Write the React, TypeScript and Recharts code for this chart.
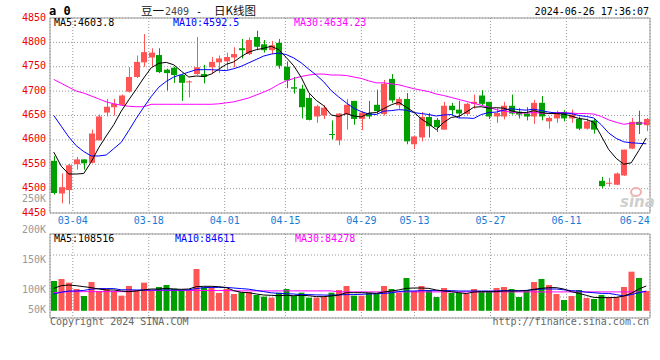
import {
  Bar,
  CartesianGrid,
  Cell,
  ComposedChart,
  Line,
  ReferenceArea,
  XAxis,
  YAxis,
} from 'recharts';

const dates = [
  '02-28', '02-29', '03-01', '03-04', '03-05', '03-06', '03-07', '03-08', '03-11', '03-12',
  '03-13', '03-14', '03-15', '03-18', '03-19', '03-20', '03-21', '03-22', '03-25', '03-26',
  '03-27', '03-28', '03-29', '04-01', '04-02', '04-03', '04-08', '04-09', '04-10', '04-11',
  '04-12', '04-15', '04-16', '04-17', '04-18', '04-19', '04-22', '04-23', '04-24', '04-25',
  '04-26', '04-29', '04-30', '05-06', '05-07', '05-08', '05-09', '05-10', '05-13', '05-14',
  '05-15', '05-16', '05-17', '05-20', '05-21', '05-22', '05-23', '05-24', '05-27', '05-28',
  '05-29', '05-30', '05-31', '06-03', '06-04', '06-05', '06-06', '06-07', '06-11', '06-12',
  '06-13', '06-14', '06-17', '06-18', '06-19', '06-20', '06-21', '06-24', '06-25', '06-26',
];

const opens = [
  4557, 4490, 4497, 4550, 4560, 4553, 4599, 4656, 4667, 4672,
  4699, 4729, 4759, 4769, 4774, 4744, 4748, 4733, 4719, 4735,
  4735, 4749, 4759, 4761, 4769, 4788, 4776, 4811, 4796, 4784,
  4799, 4750, 4708, 4705, 4686, 4648, 4650, 4612, 4599, 4652,
  4680, 4643, 4655, 4672, 4653, 4725, 4671, 4684, 4591, 4605,
  4647, 4641, 4621, 4670, 4662, 4653, 4674, 4691, 4678, 4648,
  4648, 4670, 4658, 4654, 4648, 4676, 4638, 4644, 4657, 4644,
  4643, 4623, 4640, 4516, 4511, 4508, 4527, 4582, 4637, 4630,
];
const highs = [
  4567, 4531, 4551, 4565, 4560, 4621, 4652, 4684, 4684, 4693,
  4749, 4773, 4817, 4788, 4788, 4746, 4750, 4735, 4722, 4811,
  4754, 4770, 4773, 4779, 4790, 4807, 4810, 4824, 4805, 4803,
  4807, 4761, 4729, 4713, 4695, 4672, 4671, 4640, 4655, 4684,
  4680, 4659, 4680, 4703, 4723, 4735, 4688, 4696, 4608, 4657,
  4655, 4645, 4678, 4676, 4680, 4676, 4693, 4702, 4678, 4665,
  4678, 4693, 4665, 4667, 4682, 4690, 4648, 4660, 4661, 4662,
  4648, 4644, 4643, 4524, 4522, 4533, 4580, 4645, 4660, 4645,
];
const lows = [
  4488, 4470, 4468, 4539, 4539, 4552, 4599, 4648, 4650, 4671,
  4697, 4727, 4750, 4750, 4737, 4701, 4717, 4680, 4687, 4733,
  4716, 4735, 4737, 4744, 4749, 4767, 4774, 4784, 4779, 4776,
  4746, 4706, 4695, 4644, 4640, 4635, 4643, 4601, 4589, 4621,
  4631, 4620, 4643, 4653, 4650, 4676, 4664, 4591, 4581, 4597,
  4605, 4616, 4621, 4651, 4645, 4650, 4664, 4671, 4643, 4635,
  4642, 4652, 4644, 4640, 4633, 4640, 4623, 4635, 4638, 4635,
  4620, 4621, 4613, 4501, 4504, 4507, 4526, 4581, 4612, 4618,
];
const closes = [
  4491, 4503, 4548, 4560, 4552, 4613, 4648, 4668, 4674, 4691,
  4729, 4760, 4780, 4779, 4739, 4737, 4733, 4717, 4720, 4749,
  4729, 4760, 4767, 4770, 4776, 4784, 4805, 4791, 4784, 4794,
  4752, 4722, 4705, 4667, 4641, 4669, 4666, 4611, 4654, 4672,
  4643, 4656, 4648, 4659, 4715, 4681, 4684, 4597, 4607, 4647,
  4628, 4626, 4670, 4661, 4654, 4674, 4678, 4674, 4648, 4655,
  4670, 4654, 4652, 4648, 4676, 4648, 4645, 4654, 4644, 4652,
  4623, 4638, 4621, 4505, 4512, 4531, 4580, 4637, 4631, 4643,
];

const ma5 = [
  4575, 4546, 4530, 4530, 4531, 4555, 4584, 4608, 4631, 4659,
  4682, 4704, 4727, 4748, 4757, 4759, 4754, 4741, 4729, 4731,
  4730, 4735, 4745, 4755, 4760, 4771, 4780, 4785, 4788, 4792,
  4785, 4769, 4752, 4728, 4697, 4681, 4670, 4651, 4648, 4654,
  4649, 4647, 4655, 4656, 4664, 4672, 4677, 4667, 4657, 4643,
  4633, 4621, 4636, 4646, 4648, 4657, 4667, 4668, 4665, 4666,
  4665, 4660, 4656, 4656, 4660, 4656, 4654, 4654, 4653, 4649,
  4644, 4642, 4636, 4608, 4580, 4562, 4550, 4553, 4578, 4604,
];
const ma10 = [
  4650, 4628, 4606, 4588, 4576, 4567, 4567, 4569, 4582, 4595,
  4619, 4644, 4667, 4689, 4708, 4720, 4729, 4734, 4739, 4744,
  4744, 4744, 4743, 4742, 4746, 4751, 4758, 4765, 4772, 4776,
  4778, 4775, 4768, 4758, 4745, 4733, 4719, 4701, 4688, 4676,
  4665, 4658, 4653, 4652, 4659, 4660, 4662, 4661, 4656, 4654,
  4652, 4649, 4651, 4652, 4645, 4645, 4644, 4652, 4656, 4657,
  4661, 4664, 4662, 4661, 4663, 4660, 4657, 4655, 4655, 4654,
  4650, 4648, 4645, 4631, 4614, 4603, 4596, 4594, 4593, 4592,
];
const ma30 = [
  4724, 4716, 4708, 4700, 4696, 4690, 4684, 4678, 4674, 4671,
  4669, 4668, 4668, 4673, 4673, 4673, 4673, 4673, 4673, 4673,
  4673, 4673, 4674, 4676, 4678, 4682, 4686, 4692, 4698, 4705,
  4714, 4721, 4726, 4730, 4733, 4735, 4735, 4733, 4733, 4732,
  4729, 4726, 4721, 4717, 4717, 4715, 4713, 4709, 4705, 4702,
  4699, 4694, 4691, 4687, 4683, 4679, 4675, 4671, 4667, 4662,
  4659, 4657, 4655, 4655, 4656, 4655, 4654, 4656, 4656, 4655,
  4654, 4654, 4653, 4648, 4641, 4636, 4632, 4634, 4635, 4634,
];

const volumes = [
  116700, 120000, 113900, 103300, 91700, 115000, 100000, 103300, 100000, 92200,
  108300, 100000, 113900, 101700, 106700, 110000, 103900, 101700, 100000, 136700,
  106100, 106700, 96700, 103300, 95000, 97800, 98300, 93300, 90600, 88900,
  97200, 103300, 91700, 97200, 88900, 88900, 90600, 97200, 101700, 108300,
  92200, 92200, 97200, 95000, 108300, 103300, 97200, 121700, 100000, 108300,
  101700, 90000, 105000, 96700, 96700, 95000, 103300, 98300, 100000, 105000,
  106700, 103300, 90000, 101700, 115000, 120000, 110000, 95000, 85000, 91700,
  101700, 88300, 86700, 93300, 90000, 90000, 106700, 132200, 121700, 100000,
];
const volMa5 = [
  104400, 108900, 110000, 108900, 107200, 105600, 103300, 101700, 101700, 100000,
  98900, 100000, 101700, 103300, 103300, 104400, 103300, 102800, 103300, 107200,
  107800, 107800, 107200, 105600, 100600, 97800, 97200, 95000, 93300, 92800,
  92200, 92800, 92200, 92800, 92200, 90600, 90600, 91700, 93300, 97200,
  97200, 97200, 96700, 96100, 98300, 100000, 101700, 104400, 105000, 105000,
  104400, 101700, 100000, 98900, 97200, 95600, 98300, 98900, 98900, 98900,
  100000, 100000, 100000, 100600, 102800, 104400, 105600, 105600, 103300, 98900,
  96100, 92800, 89400, 88900, 88900, 89400, 91700, 96100, 103300, 108300,
];
const volMa10 = [
  95000, 98000, 100000, 100000, 101000, 103000, 104000, 104000, 104000, 102000,
  102000, 101700, 101700, 101700, 101700, 101700, 101700, 101700, 102000, 104000,
  105600, 106000, 106000, 106000, 105000, 104000, 103000, 101000, 99000, 97000,
  96000, 95500, 95000, 94000, 94000, 93500, 93300, 93000, 93500, 94000,
  94000, 94500, 95000, 95500, 96000, 97000, 99000, 100000, 100000, 100600,
  100600, 100600, 100600, 100600, 100000, 100000, 100000, 100000, 100000, 100000,
  100600, 100600, 100600, 101000, 102000, 103300, 103300, 103300, 102000, 100600,
  100000, 98000, 97200, 96000, 96000, 94000, 91700, 94000, 97000, 100000,
];
const volMa30 = [
  97200, 98000, 98900, 98900, 98900, 98900, 98900, 98900, 98900, 98900,
  98900, 100800, 100800, 100800, 100800, 100800, 100800, 100800, 100800, 100800,
  100800, 100800, 100800, 100800, 100200, 100200, 100200, 100200, 100200, 100200,
  100200, 100200, 100200, 100200, 100200, 100200, 100200, 100200, 98500, 98500,
  98500, 98500, 98500, 98500, 98500, 98500, 98500, 98500, 98500, 98500,
  98500, 98500, 98500, 98500, 98500, 98500, 98500, 98500, 98500, 98500,
  98500, 98500, 98500, 98500, 98500, 98500, 98500, 98500, 98500, 98500,
  98500, 98500, 98500, 98500, 98500, 98500, 98500, 98500, 98500, 98500,
];
const volBase = 67000;

const priceTicks = [4450, 4500, 4550, 4600, 4650, 4700, 4750, 4800, 4850];
const tickDates = ['03-04', '03-18', '04-01', '04-15', '04-29', '05-13', '05-27', '06-11', '06-24'];
const volLabels = ['250K', '200K', '150K', '100K', '50K'];

const RED = '#ff5555';
const GREEN = '#00a000';
const GRID = '#999';
const MONO = '"DejaVu Sans Mono", monospace';
const CJK = '"Noto Sans CJK SC", sans-serif';

const rows = dates.map((date, i) => ({
  date,
  i,
  open: opens[i],
  high: highs[i],
  low: lows[i],
  close: closes[i],
  hl: [lows[i], highs[i]],
  ma5: ma5[i],
  ma10: ma10[i],
  ma30: ma30[i],
  vr: [volBase, volumes[i]],
  vma5: volMa5[i],
  vma10: volMa10[i],
  vma30: volMa30[i],
}));

const labelTicks = tickDates.map((d) => dates.indexOf(d));
const gridTicks = labelTicks.slice(0, -1);
const last = dates.length - 1;

function Candle(props: any) {
  const { x, y, width, height, payload } = props;
  const { open, close, high, low } = payload;
  const color = close >= open ? RED : GREEN;
  const top = Math.min(y, y + height);
  const h = Math.abs(height);
  const k = h / (high - low);
  const yo = top + (high - open) * k;
  const yc = top + (high - close) * k;
  const bx = Math.round(x);
  return (
    <g>
      <rect x={bx + 3} y={top} width={1} height={h} fill={color} />
      <rect
        x={bx}
        y={Math.min(yo, yc)}
        width={Math.round(width)}
        height={Math.max(1, Math.abs(yo - yc))}
        fill={color}
      />
    </g>
  );
}

function DateTick({ x, y, payload }: any) {
  return (
    <text x={x} y={y} dy={11} textAnchor="middle" fill="#1a7ad4" fontSize={10} fontFamily={MONO}>
      {dates[payload.value]}
    </text>
  );
}

const maLine = (key: string, color: string) => (
  <Line
    xAxisId="c"
    yAxisId={key.startsWith('v') ? 'v' : 'p'}
    dataKey={key}
    stroke={color}
    strokeWidth={1}
    dot={false}
    activeDot={false}
    isAnimationActive={false}
  />
);

export default function App() {
  return (
    <div
      style={{
        position: 'absolute',
        left: 0,
        top: 0,
        width: 660,
        height: 360,
        background: '#fff',
        overflow: 'hidden',
      }}
    >
      <div style={{ position: 'absolute', left: 0, top: 0 }}>
        <ComposedChart width={660} height={230} data={rows} margin={{ top: 18, right: 10, bottom: 0, left: 0 }}>
          <XAxis
            xAxisId="g"
            dataKey="i"
            type="number"
            domain={[0, last]}
            allowDataOverflow
            ticks={labelTicks}
            interval={0}
            tick={<DateTick />}
            axisLine={false}
            tickLine={false}
            tickSize={0}
            tickMargin={0}
            height={17}
          />
          <XAxis xAxisId="c" dataKey="date" hide height={0} />
          <XAxis
            xAxisId="gg"
            dataKey="i"
            type="number"
            domain={[0, last]}
            allowDataOverflow
            ticks={gridTicks}
            hide
            height={0}
          />
          <YAxis
            yAxisId="p"
            domain={[4450, 4850]}
            ticks={priceTicks}
            interval={0}
            width={50}
            axisLine={false}
            tickLine={false}
            tickSize={0}
            tickMargin={4}
            tick={{ fill: '#ee0000', fontSize: 10, fontFamily: MONO, dy: -1 }}
          />
          <CartesianGrid xAxisId="gg" yAxisId="p" stroke={GRID} strokeDasharray="1 2" />
          <ReferenceArea
            xAxisId="gg"
            yAxisId="p"
            x1={0}
            x2={last}
            y1={4450}
            y2={4850}
            fill="none"
            fillOpacity={0}
            stroke="#999"
            ifOverflow="visible"
          />
          <Bar xAxisId="c" yAxisId="p" dataKey="hl" barSize={6} shape={Candle} isAnimationActive={false} />
          {maLine('ma30', '#ff00ff')}
          {maLine('ma10', '#0000ff')}
          {maLine('ma5', '#000000')}
        </ComposedChart>
      </div>

      <div style={{ position: 'absolute', left: 0, top: 233 }}>
        <ComposedChart width={660} height={86} data={rows} margin={{ top: 1, right: 10, bottom: 1, left: 0 }}>
          <XAxis xAxisId="c" dataKey="date" hide height={0} />
          <XAxis
            xAxisId="gg"
            dataKey="i"
            type="number"
            domain={[0, last]}
            allowDataOverflow
            ticks={gridTicks}
            hide
            height={0}
          />
          <YAxis yAxisId="v" domain={[55000, 195000]} allowDataOverflow width={50} tick={false} axisLine={false} tickLine={false} />
          <YAxis yAxisId="vg" domain={[0, 4]} ticks={[1, 2, 3]} allowDataOverflow hide width={0} />
          <CartesianGrid xAxisId="gg" yAxisId="vg" stroke={GRID} strokeDasharray="1 2" />
          <ReferenceArea
            xAxisId="gg"
            yAxisId="v"
            x1={0}
            x2={last}
            y1={55000}
            y2={195000}
            fill="none"
            fillOpacity={0}
            stroke="#999"
            ifOverflow="visible"
          />
          <Bar xAxisId="c" yAxisId="v" dataKey="vr" barSize={6} isAnimationActive={false}>
            {rows.map((r) => (
              <Cell key={r.date} fill={r.close >= r.open ? RED : GREEN} />
            ))}
          </Bar>
          {maLine('vma30', '#ff00ff')}
          {maLine('vma10', '#0000ff')}
          {maLine('vma5', '#000000')}
        </ComposedChart>
      </div>

      <svg
        width={660}
        height={360}
        style={{ position: 'absolute', left: 0, top: 0, pointerEvents: 'none' }}
      >
        <text x={49} y={15} fontSize={12} fontWeight="bold" fontFamily={MONO} fill="#000">
          a 0
        </text>
        <text y={15} fill="#111">
          <tspan x={141} fontFamily={CJK} fontSize={11.5}>豆一</tspan>
          <tspan x={165} fontFamily={MONO} fontSize={10} fill="#444">2409</tspan>
          <tspan x={196} fontFamily={MONO} fontSize={10}>-</tspan>
          <tspan x={214} fontFamily={CJK} fontSize={11.5}>日K线图</tspan>
        </text>
        <text x={649} y={15} textAnchor="end" fontSize={10} fontFamily={MONO} fill="#000">
          2024-06-26 17:36:07
        </text>

        <text y={26} fontSize={10} fontFamily={MONO}>
          <tspan x={54} fill="#000">MA5:4603.8</tspan>
          <tspan x={173} fill="#0000ff">MA10:4592.5</tspan>
          <tspan x={294} fill="#ff00ff">MA30:4634.23</tspan>
        </text>
        <text y={242} fontSize={10} fontFamily={MONO}>
          <tspan x={54} fill="#000">MA5:108516</tspan>
          <tspan x={175} fill="#0000ff">MA10:84611</tspan>
          <tspan x={295} fill="#ff00ff">MA30:84278</tspan>
        </text>

        <g fontSize={10} fontFamily={MONO} fill="#999" textAnchor="end">
          <text x={46} y={202}>{volLabels[0]}</text>
          <text x={46} y={233}>{volLabels[1]}</text>
          <text x={46} y={263}>{volLabels[2]}</text>
          <text x={46} y={293}>{volLabels[3]}</text>
          <text x={46} y={313}>{volLabels[4]}</text>
        </g>

        <text x={50} y={325} fontSize={10} fontFamily={MONO} fill="#666">
          Copyright 2024 SINA.COM
        </text>
        <text x={649} y={325} textAnchor="end" fontSize={10} fontFamily={MONO} fill="#666">
          http://finance.sina.com.cn
        </text>

        <ellipse cx={636} cy={192} rx={5} ry={4} fill="none" stroke="#f2b0b0" strokeWidth={2} />
        <text
          x={620}
          y={207}
          fontSize={15}
          fontStyle="italic"
          fontWeight="bold"
          fontFamily='"DejaVu Sans", sans-serif'
          fill="#cfcfcf"
        >
          sina
        </text>
      </svg>
    </div>
  );
}
